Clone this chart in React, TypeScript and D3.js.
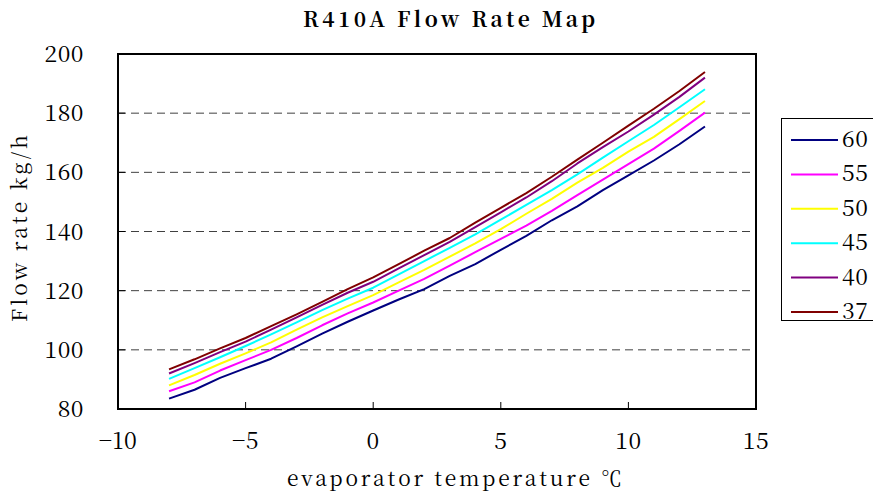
import React from "react";
import * as d3 from "d3";

const temps = [-8, -7, -6, -5, -4, -3, -2, -1, 0, 1, 2, 3, 4, 5, 6, 7, 8, 9, 10, 11, 12, 13];
const s60 = [83.5, 86.5, 90.5, 93.8, 97, 101.2, 105.5, 109.5, 113.3, 117, 120.5, 125, 129, 133.8, 138.5, 143.8, 148.5, 154, 159, 164, 169.5, 175.5];
const s55 = [86, 89, 93, 96.5, 100, 104, 108.3, 112.3, 116, 120, 124, 128.5, 133, 137.5, 142, 147, 152.3, 157.5, 162.8, 168, 174, 180.2];
const s50 = [88, 91.5, 95.3, 98.8, 102.5, 106.8, 111, 114.8, 118.5, 122.8, 127, 131.5, 136, 140.8, 146, 151, 156.5, 161.5, 167, 172, 178, 184.1];
const s45 = [90.2, 93.8, 97.5, 101.3, 105.2, 109.3, 113.4, 117.3, 121, 125.5, 130, 134.5, 139, 144, 149, 154, 159.3, 165, 170.5, 176, 182, 188.1];
const s40 = [92, 95.5, 99.2, 102.8, 106.8, 111, 115.2, 119.3, 123, 127.5, 132, 136.5, 141.5, 146.5, 151.5, 157, 163, 168.5, 173.8, 179.5, 185.5, 192];
const s37 = [93.4, 96.8, 100.5, 104, 108, 112, 116.2, 120.5, 124.5, 129, 133.5, 137.8, 143, 148, 153, 158.5, 164.3, 170, 175.8, 181.5, 187.5, 193.9];

const seriesNames = ["60", "55", "50", "45", "40", "37"];
const seriesValues = [s60, s55, s50, s45, s40, s37];
const seriesColors = ["#000080", "#FF00FF", "#FFFF00", "#00FFFF", "#800080", "#800000"];

const xTicks = [-10, -5, 0, 5, 10, 15];
const yTicks = [80, 100, 120, 140, 160, 180, 200];

const W = 873;
const H = 496;
const plot = { left: 118, right: 756, top: 54, bottom: 409 };

const FONT = "Noto Serif CJK SC, DejaVu Serif, serif";
const numStyle: React.CSSProperties = {
  fontFamily: FONT,
  fontSize: "23px",
  letterSpacing: "0.5px",
};

export default function App() {
  const x = d3.scaleLinear().domain([-10, 15]).range([plot.left, plot.right]);
  const y = d3.scaleLinear().domain([80, 200]).range([plot.bottom, plot.top]);
  const line = d3
    .line<number>()
    .x((_, i) => x(temps[i]))
    .y((d) => y(d));

  return (
    <svg
      width={W}
      height={H}
      style={{ position: "absolute", left: 0, top: 0, background: "#fff" }}
    >
      <rect x={0} y={0} width={W} height={H} fill="#fff" />
      {/* title */}
      <text
        x={303}
        y={27}
        textLength={292}
        lengthAdjust="spacing"
        style={{ fontFamily: FONT, fontWeight: "bold", fontSize: "21px" }}
        fill="#000"
      >
        R410A Flow Rate Map
      </text>

      {/* grid lines */}
      {yTicks
        .filter((t) => t > 80 && t < 200)
        .map((t) => (
          <line
            key={"g" + t}
            x1={plot.left}
            x2={plot.right}
            y1={y(t)}
            y2={y(t)}
            stroke="#404040"
            strokeWidth={1}
            strokeDasharray="8,5"
          />
        ))}

      {/* series */}
      {seriesValues.map((vals, i) => (
        <path
          key={seriesNames[i]}
          d={line(vals) || ""}
          fill="none"
          stroke={seriesColors[i]}
          strokeWidth={2}
          strokeLinejoin="round"
        />
      ))}

      {/* plot frame */}
      <rect
        x={plot.left}
        y={plot.top}
        width={plot.right - plot.left}
        height={plot.bottom - plot.top}
        fill="none"
        stroke="#000"
        strokeWidth={2}
      />

      {/* y ticks */}
      {yTicks.map((t) => (
        <g key={"y" + t}>
          <line x1={plot.left} x2={plot.left + 7} y1={y(t)} y2={y(t)} stroke="#000" strokeWidth={1} />
          <text x={84} y={y(t) + 8} textAnchor="end" style={numStyle} fill="#000">
            {t}
          </text>
        </g>
      ))}

      {/* x ticks */}
      {xTicks.map((t) => (
        <g key={"x" + t}>
          <line x1={x(t)} x2={x(t)} y1={plot.bottom} y2={plot.bottom - 7} stroke="#000" strokeWidth={1} />
          <text x={x(t)} y={449} textAnchor="middle" style={numStyle} fill="#000">
            {t < 0 ? "\u2212" + Math.abs(t) : String(t)}
          </text>
        </g>
      ))}

      {/* axis titles */}
      <text
        x={287}
        y={486}
        textLength={335}
        lengthAdjust="spacing"
        style={{ fontFamily: FONT, fontSize: "21px" }}
        fill="#000"
      >
        evaporator temperature ℃
      </text>
      <text
        transform="translate(27,322) rotate(-90)"
        textLength={187}
        lengthAdjust="spacing"
        style={{ fontFamily: FONT, fontSize: "21px" }}
        fill="#000"
      >
        Flow rate kg/h
      </text>

      {/* legend */}
      <rect x={781.5} y={118.5} width={100} height={202} fill="#fff" stroke="#000" strokeWidth={1} />
      {seriesNames.map((n, i) => {
        const cy = 140 + i * 34.4;
        return (
          <g key={"l" + n}>
            <line x1={791} x2={838} y1={cy} y2={cy} stroke={seriesColors[i]} strokeWidth={2} />
            <text x={842} y={cy + 7} style={numStyle} fill="#000">
              {n}
            </text>
          </g>
        );
      })}
    </svg>
  );
}
